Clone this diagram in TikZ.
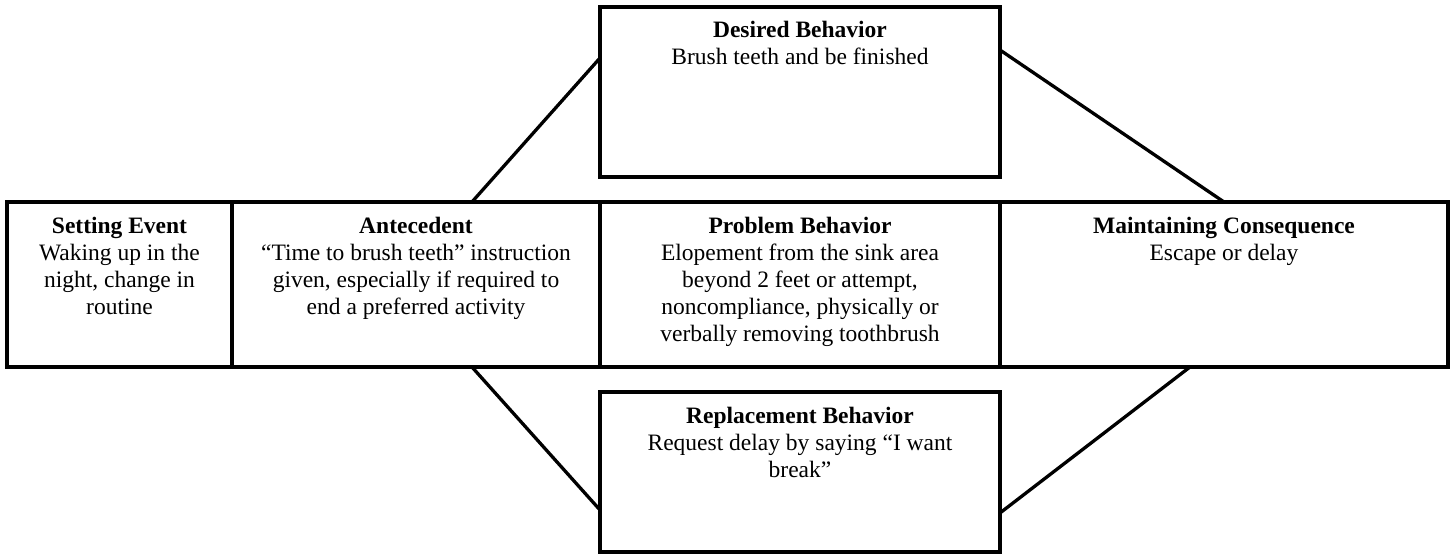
\documentclass[tikz,border=0pt]{standalone}
\usepackage{fontspec}
\setmainfont{Liberation Serif}
\usetikzlibrary{calc}
\begin{document}
\begin{tikzpicture}[x=1pt,y=-1pt,
  cell/.style={draw=black, line width=3.5pt, inner sep=0pt, outer sep=0pt, rectangle},
  txt/.style={anchor=north, inner sep=0pt, align=center, font=\fontsize{23.5}{27}\selectfont},
  link/.style={draw=black, line width=3.3pt}]
\useasboundingbox (0,0) rectangle (1455,554);
% middle row
\node[cell, minimum width=225pt, minimum height=165pt] (setting) at (119.5,284.5) {};
\node[cell, minimum width=368pt, minimum height=165pt] (antecedent) at (416,284.5) {};
\node[cell, minimum width=400pt, minimum height=165pt] (problem) at (800,284.5) {};
\node[cell, minimum width=448pt, minimum height=165pt] (maintaining) at (1224,284.5) {};
% top and bottom boxes
\node[cell, minimum width=400pt, minimum height=170pt] (desired) at (800,92) {};
\node[cell, minimum width=400pt, minimum height=160pt] (replacement) at (800,472) {};
% texts
\node[txt] (settingt) at ($(setting.north)+(0,15)$) {\textbf{Setting Event}\\Waking up in the\\night, change in\\routine};
\node[txt] (antecedentt) at ($(antecedent.north)+(0,15)$) {\textbf{Antecedent}\\“Time to brush teeth” instruction\\given, especially if required to\\end a preferred activity};
\node[txt] (problemt) at ($(problem.north)+(0,15)$) {\textbf{Problem Behavior}\\Elopement from the sink area\\beyond 2 feet or attempt,\\noncompliance, physically or\\verbally removing toothbrush};
\node[txt] (maintainingt) at ($(maintaining.north)+(0,15)$) {\textbf{Maintaining Consequence}\\Escape or delay};
\node[txt] (desiredt) at ($(desired.north)+(0,14)$) {\textbf{Desired Behavior}\\Brush teeth and be finished};
\node[txt] (replacementt) at ($(replacement.north)+(0,15)$) {\textbf{Replacement Behavior}\\Request delay by saying “I want\\break”};
% connectors
\draw[link] ($(antecedent.north west)!0.652!(antecedent.north east)$) -- ($(desired.north west)!0.3!(desired.south west)$);
\draw[link] ($(desired.north east)!0.253!(desired.south east)$) -- (maintaining.north);
\draw[link] ($(antecedent.south west)!0.652!(antecedent.south east)$) -- ($(replacement.north west)!0.7375!(replacement.south west)$);
\draw[link] ($(replacement.north east)!0.756!(replacement.south east)$) -- ($(maintaining.south west)!0.424!(maintaining.south east)$);
\end{tikzpicture}
\end{document}
